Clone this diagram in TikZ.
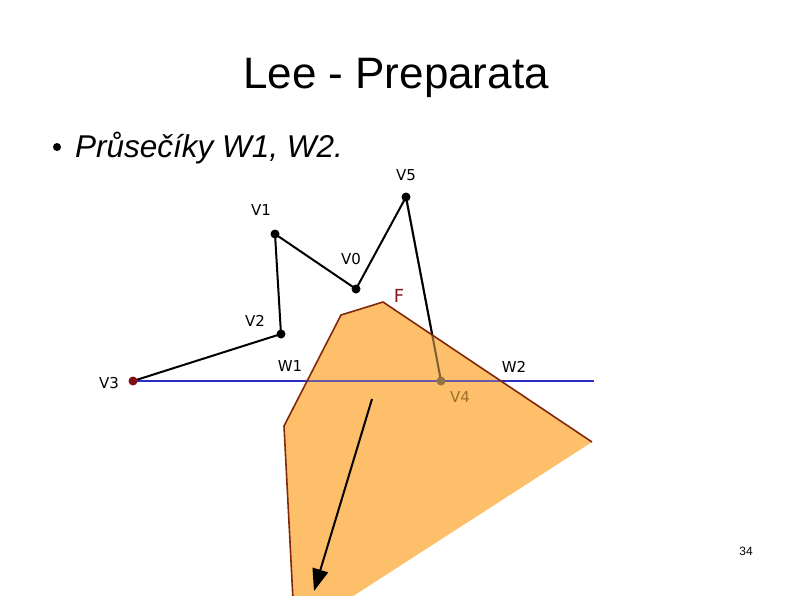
\documentclass[tikz,border=0pt]{standalone}
\usepackage{fontspec}
\setmainfont{Liberation Sans}
\newfontfamily\labfont{DejaVu Sans}
\usetikzlibrary{arrows.meta}
\definecolor{fillor}{RGB}{253,191,106}
\definecolor{edgebr}{RGB}{130,40,10}
\definecolor{lineblue}{RGB}{45,45,195}
\definecolor{vdark}{RGB}{130,10,20}
\definecolor{vfour}{RGB}{155,110,40}
\definecolor{flab}{RGB}{140,20,30}
\tikzset{
  vlab/.style={font=\labfont\fontsize{15}{18}\selectfont, inner sep=0pt},
  pline/.style={line width=2pt, black},
  bline/.style={line width=2.4pt, lineblue},
  vdot/.style={circle, fill=black, inner sep=0pt, minimum size=9pt},
}
\begin{document}
\begin{tikzpicture}[x=1pt,y=-1pt]
\useasboundingbox (0,0) rectangle (794,595);
\clip (0,0) rectangle (794,595);
% title
\node[anchor=base, inner sep=0pt, font=\fontsize{44}{50}\selectfont] (title) at (396,88) {Lee - Preparata};
\node[circle, fill=black, inner sep=0pt, minimum size=8pt] (bullet) at (57,147) {};
\node[anchor=base west, inner sep=0pt, font=\itshape\fontsize{31.5}{36}\selectfont] (btext) at (75,157) {Průsečíky W1, W2.};
% vertices
\coordinate (v5) at (406,197);
\coordinate (v1) at (275,234);
\coordinate (v0) at (356,289);
\coordinate (v2) at (281,334);
\coordinate (v3) at (133,381);
\coordinate (v4) at (441,381);
\coordinate (bend) at (594,381);
% polyline and blue line
\draw[pline, line join=round] (v3) -- (v2) -- (v1) -- (v0) -- (v5) -- (v4);
\draw[bline] (v3) -- (bend);
% polygon F
\coordinate (f1) at (341,315);
\coordinate (f2) at (383,302);
\coordinate (f3) at (592,442);
\coordinate (f4) at (347,600);
\coordinate (f5) at (293,600);
\coordinate (f6) at (284,426);
\fill[fillor] (f1) -- (f2) -- (f3) -- (f4) -- (f5) -- (f6) -- cycle;
% lines seen through the face
\draw[bline, opacity=0.7] (v3) -- (bend);
\draw[pline, opacity=0.5] (v5) -- (v4);
\draw[edgebr, line width=1.6pt, line join=round] (f3) -- (f2) -- (f1) -- (f6) -- (f5);
% dots
\node[vdot] (d5) at (v5) {};
\node[vdot] (d1) at (v1) {};
\node[vdot] (d0) at (v0) {};
\node[vdot] (d2) at (v2) {};
\node[vdot, fill=vdark] (d3) at (v3) {};
\node[vdot, fill=vfour!70!gray] (d4) at (v4) {};
% arrow
\coordinate (a1) at (372,399);
\coordinate (a2) at (314,591);
\draw[line width=2pt, -{Triangle[length=22pt, width=16pt]}] (a1) -- (a2);
% labels
\node[vlab] (l5) at (406,175) {V5};
\node[vlab] (l1) at (261,210) {V1};
\node[vlab] (l0) at (351,259) {V0};
\node[vlab] (l2) at (255,321) {V2};
\node[vlab] (l3) at (109,383) {V3};
\node[vlab] (lw1) at (290,366) {W1};
\node[vlab] (lw2) at (514,367) {W2};
\node[vlab, text=vfour] (l4) at (460,397) {V4};
\node[vlab, text=flab, font=\labfont\fontsize{18}{20}\selectfont] (lf) at (399,296) {F};
\node[inner sep=0pt, font=\fontsize{12}{14}\selectfont] (pg) at (746,551) {34};
\end{tikzpicture}
\end{document}
